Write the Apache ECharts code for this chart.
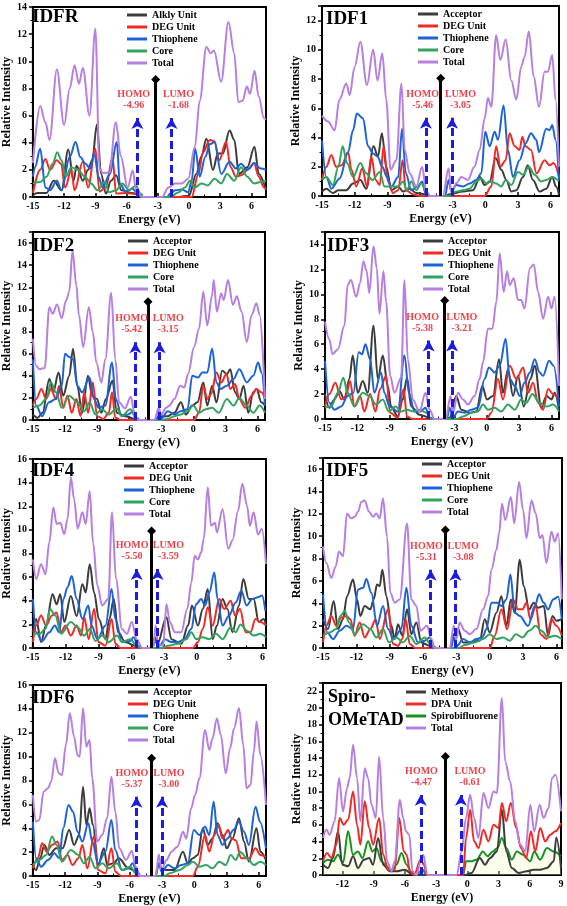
<!DOCTYPE html>
<html><head><meta charset="utf-8">
<script src="https://cdn.jsdelivr.net/npm/echarts@6/dist/echarts.min.js"></script>
<style>html,body{margin:0;padding:0;background:#fff}#c{width:567px;height:906px}</style>
</head><body><div id="c"></div><script>
// ---------------- DATA ([energy eV, intensity]) ----------------
const idfr_alkly=[[-15,0.1],[-14.6,0.3],[-13.7,0.3],[-13.0,1.2],[-12.25,0.5],[-11.6,3.5],[-11.1,1.2],[-10.8,2.3],[-10.2,1.2],[-9.7,2.0],[-9.3,2.7],[-8.85,5.35],[-8.45,1.7],[-7.98,0.25],[-7.5,1.2],[-7.0,1.6],[-6.5,0.5],[-5.5,0.3],[-4.6,0.1],[-4.4,0],[-1,0],[0,0.1],[0.7,1.7],[1.2,3.0],[1.67,4.3],[2.3,2.0],[2.77,3.2],[3.25,3.2],[3.9,4.9],[4.35,4.2],[4.8,1.7],[5.6,2.2],[6.3,3.7],[6.7,1.7],[7.4,0.5]];
const idfr_deg=[[-15,0.3],[-14.3,2.0],[-13.8,2.8],[-13.35,2.0],[-12.7,2.7],[-12.3,2.45],[-11.9,0.7],[-11.3,2.0],[-11.0,0.5],[-10.2,2.6],[-9.7,0.7],[-9.0,3.55],[-8.6,0.4],[-8.0,0.7],[-7.35,2.9],[-7.0,0.25],[-6,0.3],[-5,0.2],[-4.5,0],[0.25,0],[0.9,1.7],[1.35,3.3],[2.0,4.2],[2.45,4.1],[2.9,2.7],[3.56,4.05],[4.0,2.2],[4.5,1.5],[5.0,1.6],[5.8,2.1],[6.25,2.5],[6.7,1.5],[7.2,0.7],[7.4,0.6]];
const idfr_thio=[[-15,1.5],[-14.8,2.2],[-14.3,3.55],[-13.8,0.7],[-13.35,0.5],[-12.7,1.2],[-12.25,0.5],[-11.46,2.95],[-10.9,4.05],[-10.45,2.95],[-9.94,2.45],[-9.5,2.1],[-9.1,3.2],[-8.7,1.5],[-8.3,0.7],[-7.6,1.7],[-6.94,4.05],[-6.65,1.0],[-6.1,0.4],[-5.45,0.6],[-5.0,0.35],[-4.6,0],[-2.1,0],[-1.8,0.25],[-1.3,0.5],[-0.7,0.55],[-0.07,0.35],[0.25,1.2],[0.6,3.55],[1.03,1.5],[1.57,2.95],[2.0,3.9],[2.45,4.05],[3.1,1.7],[3.9,2.6],[4.5,2.1],[5.0,2.45],[5.6,2.0],[6.25,2.5],[6.9,2.1],[7.4,2.0]];
const idfr_core=[[-15,1.0],[-14.3,1.1],[-13.7,1.5],[-13.1,2.45],[-12.66,3.3],[-12.25,2.7],[-11.84,1.5],[-11.3,2.2],[-10.67,2.0],[-10.0,1.5],[-9.4,1.0],[-8.8,0.5],[-8.1,1.1],[-7.66,0.35],[-7.0,0.5],[-6.4,1.0],[-5.77,0.5],[-5.1,0.85],[-4.66,0.25],[-4.4,0],[-1.8,0],[-1.0,0.35],[-0.4,0.7],[0.1,1.2],[0.56,0.7],[1.2,1.0],[1.8,0.85],[2.45,1.35],[3.1,1.0],[3.66,1.7],[4.35,1.2],[5.0,2.2],[5.6,1.5],[6.25,1.0],[6.9,1.1],[7.4,1.2]];
const idfr_total=[[-15,2.5],[-14.3,6.7],[-13.8,5.5],[-13.4,4.2],[-12.7,9.4],[-12.0,5.3],[-11.46,8.0],[-11.0,9.7],[-10.57,8.35],[-10.2,9.5],[-9.56,6.0],[-9.0,12.4],[-8.6,2.2],[-8.3,1.77],[-7.66,1.8],[-7.03,5.5],[-6.55,3.0],[-5.9,0.7],[-5.4,1.95],[-5.1,0.5],[-4.5,0],[-2.6,0],[-1.97,0.7],[-1.34,1.0],[-0.7,1.0],[-0.07,1.35],[0.56,3.7],[1.03,7.1],[1.67,11.05],[2.08,10.6],[2.4,10.8],[3.09,8.5],[3.79,12.9],[4.35,10.6],[4.73,7.0],[5.15,7.1],[5.56,8.15],[5.87,7.6],[6.3,9.3],[6.7,7.4],[7.2,5.8],[7.4,5.7]];

const idf1_acc=[[-15,0.3],[-14.6,0.5],[-14.0,0.2],[-13.5,0.4],[-12.77,0.4],[-12.15,0.85],[-11.48,1.1],[-10.93,0.5],[-10.26,3.4],[-9.86,2.7],[-9.5,4.3],[-9.1,2.0],[-8.63,0.4],[-8.0,0.65],[-7.56,0.3],[-6.95,0.5],[-6.34,0.2],[-5.4,0.1],[-5.0,0],[-3.6,0],[-3.37,0.1],[-2.05,0.3],[-1.13,0.4],[-0.5,1.3],[-0.06,0.75],[0.4,1.0],[0.95,2.6],[1.47,1.8],[1.93,1.1],[2.39,0.3],[2.85,0.4],[3.46,1.3],[3.9,2.1],[4.37,1.1],[5.0,0.3],[5.6,0.5],[6.15,1.3],[6.5,0.65],[6.77,0.1]];
const idf1_deg=[[-15,1.1],[-14.6,2.0],[-14.14,2.8],[-13.7,2.0],[-13.2,2.1],[-12.6,3.0],[-12.3,1.8],[-11.85,0.65],[-11.3,1.9],[-10.87,0.65],[-10.47,2.7],[-10.07,1.1],[-9.7,0.75],[-9.34,3.4],[-8.94,1.0],[-8.48,0.2],[-8.0,0.4],[-7.6,2.45],[-7.3,0.4],[-6.6,0.1],[-6.0,0],[-0.06,0],[0.55,0.65],[1.0,3.4],[1.38,2.0],[1.87,2.45],[2.23,4.3],[2.7,3.4],[3.15,3.15],[3.4,4.05],[3.7,3.4],[4.2,3.15],[4.7,1.55],[5.45,2.45],[5.9,2.1],[6.27,2.25],[6.77,1.3]];
const idf1_thio=[[-15,3.8],[-14.6,1.3],[-14.14,0.5],[-13.38,1.2],[-12.6,3.0],[-12.15,4.5],[-11.8,5.65],[-11.23,5.3],[-10.77,3.4],[-10.3,2.9],[-9.9,2.7],[-9.46,2.0],[-9.03,1.3],[-8.63,0.65],[-8.0,1.3],[-7.65,4.6],[-7.3,1.55],[-6.8,0.4],[-6.2,0.65],[-5.8,1.0],[-5.5,0.2],[-5.2,0],[-3.7,0],[-3.37,1.1],[-3.12,0.3],[-2.66,0.75],[-2.05,0.65],[-1.44,0.85],[-0.83,1.1],[-0.37,1.55],[0.0,4.4],[0.4,3.4],[0.86,4.4],[1.16,3.85],[1.68,6.2],[2.08,3.15],[2.54,1.3],[3.15,2.45],[3.7,3.6],[4.2,4.3],[4.68,3.85],[4.93,3.0],[5.6,4.6],[5.9,4.5],[6.15,4.85],[6.45,3.85],[6.77,1.1]];
const idf1_core=[[-15,1.1],[-14.6,1.3],[-14.0,0.75],[-13.5,2.0],[-13.1,3.4],[-12.7,2.25],[-12.15,1.3],[-11.48,2.25],[-10.93,1.55],[-10.38,1.1],[-9.7,1.65],[-9.25,0.65],[-8.63,0.65],[-8.0,0.65],[-7.56,1.0],[-7.2,0.4],[-6.8,1.0],[-6.34,0.4],[-5.88,0.85],[-5.4,0.3],[-5.1,0],[-3.3,0],[-2.66,0.3],[-2.05,0.4],[-1.44,0.5],[-0.83,1.0],[-0.37,1.2],[0.1,0.85],[0.55,1.0],[1.0,0.85],[1.47,0.65],[1.87,1.1],[2.39,0.75],[3.0,1.65],[3.46,1.45],[4.0,2.0],[4.53,1.45],[5.14,1.0],[5.6,1.1],[6.15,1.3],[6.77,1.0]];
const idf1_total=[[-15,5.5],[-14.45,5.1],[-13.84,4.5],[-13.4,6.6],[-12.77,7.7],[-12.46,6.9],[-12.0,8.85],[-11.48,10.56],[-10.87,7.6],[-10.3,10.0],[-9.9,7.9],[-9.46,9.76],[-9.1,6.6],[-8.7,1.8],[-8.17,2.45],[-7.7,7.7],[-7.4,3.15],[-6.95,1.55],[-6.34,0.65],[-5.8,2.0],[-5.4,0.2],[-5.1,0],[-3.9,0],[-3.37,1.9],[-3.12,0.2],[-2.66,0.87],[-2.2,1.3],[-1.6,1.1],[-1.0,2.0],[-0.52,3.15],[-0.06,5.3],[0.24,6.7],[0.55,6.1],[1.0,11.0],[1.38,9.3],[1.87,10.7],[2.39,7.9],[2.85,6.6],[3.3,8.85],[3.6,9.5],[4.0,11.25],[4.44,8.2],[4.93,6.1],[5.45,8.5],[5.75,8.5],[6.15,9.65],[6.45,6.6],[6.77,2.0]];

const idf2_acc=[[-15,0.5],[-14.55,0.2],[-14.1,0.65],[-13.46,3.7],[-13.1,2.5],[-12.6,4.3],[-12.17,2.2],[-11.6,4.0],[-11.25,6.45],[-10.85,3.1],[-10.4,0.65],[-9.85,4.0],[-9.46,2.2],[-9.0,1.9],[-8.6,0.65],[-8.17,1.9],[-7.56,3.55],[-7.16,0.65],[-6.4,0.35],[-5.47,0.1],[-5.1,0],[-3.5,0],[-3.25,0.35],[-2.4,0.35],[-1.78,0.65],[-1.16,1.6],[-0.7,0.5],[-0.1,1.3],[0.38,1.6],[0.93,3.4],[1.3,1.3],[1.76,3.1],[2.16,1.6],[2.7,4.45],[3.14,4.15],[3.45,4.6],[3.9,2.5],[4.3,1.9],[4.7,3.1],[5.14,0.65],[5.6,2.5],[5.9,2.8],[6.37,1.6],[6.7,1.3]];
const idf2_deg=[[-15,1.3],[-14.7,1.9],[-14.2,2.8],[-13.77,1.9],[-13.3,2.8],[-12.85,1.9],[-12.54,3.1],[-12.17,1.1],[-11.77,2.2],[-11.37,0.65],[-10.94,1.9],[-10.54,0.35],[-10.2,2.5],[-9.84,0.65],[-9.4,3.4],[-9.0,0.35],[-8.4,0.1],[-7.9,0.65],[-7.6,2.5],[-7.3,0.2],[-6.8,0],[0.07,0],[0.53,0.65],[0.93,3.1],[1.3,1.9],[1.67,2.35],[2.16,4.3],[2.6,3.4],[3.1,4.15],[3.45,2.8],[3.9,3.25],[4.3,1.9],[4.85,1.1],[5.45,2.2],[5.9,2.8],[6.37,2.5],[6.7,1.9]];
const idf2_thio=[[-15,5.5],[-14.7,1.3],[-14.14,0.35],[-13.5,1.6],[-12.85,1.9],[-12.3,3.1],[-12.0,6.0],[-11.6,5.7],[-11.25,5.5],[-10.85,3.1],[-10.4,2.5],[-9.7,3.85],[-9.3,1.9],[-8.85,1.1],[-8.23,1.3],[-7.6,5.2],[-7.25,1.9],[-6.7,0.35],[-6.1,0.5],[-5.6,0.8],[-5.3,0.2],[-5.0,0],[-3.6,0],[-3.3,0.8],[-3.0,0.1],[-2.4,0.8],[-1.78,0.5],[-1.16,0.8],[-0.55,0.97],[-0.1,4.0],[0.44,3.85],[0.84,4.3],[1.3,4.3],[1.76,6.45],[2.16,3.4],[2.53,2.8],[3.14,3.1],[3.75,3.7],[4.3,4.6],[5.0,3.4],[5.6,4.0],[6.06,5.2],[6.37,4.3],[6.7,1.3]];
const idf2_core=[[-15,1.1],[-14.4,1.3],[-13.77,1.9],[-13.3,3.4],[-12.85,2.5],[-12.3,1.1],[-11.6,2.2],[-10.85,1.6],[-10.2,0.8],[-9.7,1.6],[-9.15,0.5],[-8.54,0.97],[-7.9,0.5],[-7.16,1.05],[-6.7,0.35],[-5.9,0.97],[-5.3,0.05],[-5.0,0],[-3.0,0],[-2.4,0.1],[-1.78,0.35],[-1.16,0.5],[-0.55,0.8],[0.0,1.3],[0.53,0.65],[1.15,0.97],[1.76,1.1],[2.37,0.65],[3.14,1.9],[3.75,1.3],[4.3,2.0],[5.0,1.3],[5.6,0.65],[6.2,1.3],[6.7,0.65]];
const idf2_total=[[-15,7.35],[-14.7,4.9],[-14.4,4.6],[-13.9,4.7],[-13.46,10.2],[-13.15,9.6],[-12.75,10.45],[-12.3,9.2],[-11.9,10.8],[-11.6,11.6],[-11.3,15.3],[-10.94,12.2],[-10.7,9.5],[-10.3,6.6],[-9.77,10.2],[-9.4,7.95],[-9.07,5.2],[-8.6,3.4],[-8.23,5.5],[-7.68,11.5],[-7.3,5.5],[-6.94,1.6],[-6.4,1.05],[-5.84,2.1],[-5.47,0.4],[-5.15,0],[-3.6,0],[-3.25,1.1],[-3.0,0.5],[-2.55,1.1],[-2.24,1.3],[-1.78,1.9],[-1.22,3.1],[-0.85,2.95],[-0.49,4.15],[0.07,6.6],[0.53,8.25],[0.93,11.6],[1.3,8.55],[1.76,11.3],[1.9,12.66],[2.2,9.8],[2.6,11.45],[2.84,10.85],[3.24,12.66],[3.7,10.4],[4.07,11.2],[4.5,9.8],[5.0,7.05],[5.45,9.5],[5.9,10.55],[6.2,9.5],[6.7,1.9]];

const idf3_acc=[[-15,2.0],[-14.6,0.9],[-14.13,1.57],[-13.67,2.24],[-13.2,1.57],[-12.74,3.2],[-12.43,5.1],[-11.96,2.1],[-11.5,3.05],[-11.04,2.1],[-10.5,7.5],[-10.1,3.2],[-9.64,5.1],[-9.18,2.65],[-8.87,1.0],[-8.25,0.2],[-7.78,1.57],[-7.4,3.3],[-7.0,1.0],[-6.24,0.35],[-5.3,0.1],[-4.9,0],[-3.7,0],[-3.45,0.1],[-2.83,1.85],[-2.36,0.75],[-1.6,0.5],[-0.97,0.6],[-0.41,2.65],[0.02,1.57],[0.58,1.85],[1.14,4.8],[1.5,2.1],[1.97,4.0],[2.44,1.85],[2.9,3.46],[3.43,1.0],[4.05,3.2],[4.45,4.27],[5.07,0.9],[5.53,1.85],[6.0,1.57],[6.3,2.1],[6.7,0.75]];
const idf3_deg=[[-15,1.0],[-14.6,2.0],[-14.04,2.9],[-13.5,1.57],[-13.05,1.85],[-12.68,3.05],[-12.27,1.0],[-11.75,1.85],[-11.35,0.6],[-10.82,2.0],[-10.32,0.6],[-9.9,2.4],[-9.33,3.46],[-8.96,0.5],[-8.25,0.1],[-7.72,2.4],[-7.4,0.2],[-6.9,0],[0.0,0],[0.42,0.5],[1.04,3.2],[1.5,1.57],[2.13,4.27],[2.75,3.2],[3.37,4.14],[3.83,2.1],[4.3,2.9],[4.76,1.3],[5.22,0.75],[5.69,2.4],[6.15,2.0],[6.7,1.57]];
const idf3_thio=[[-15,4.67],[-14.6,1.3],[-14.13,0.75],[-13.5,1.0],[-12.9,1.85],[-12.37,2.1],[-11.87,5.35],[-11.56,5.2],[-11.25,6.0],[-10.82,4.8],[-10.42,2.1],[-9.8,3.73],[-9.5,2.1],[-9.0,1.0],[-8.25,0.6],[-7.63,5.1],[-7.22,2.1],[-6.7,0.6],[-6.17,0.6],[-5.68,0.9],[-5.3,0.1],[-5.0,0],[-3.7,0],[-3.45,0.9],[-3.14,0.1],[-2.67,0.6],[-2.05,0.5],[-1.43,0.75],[-0.82,0.9],[-0.2,3.2],[0.2,4.14],[0.73,3.73],[1.2,4.27],[1.75,6.43],[2.13,3.2],[2.6,2.65],[3.05,1.85],[3.5,2.9],[4.0,3.73],[4.45,4.8],[4.9,3.73],[5.22,3.46],[5.78,4.67],[6.2,4.27],[6.7,1.0]];
const idf3_core=[[-15,0.9],[-14.44,1.0],[-13.8,2.1],[-13.3,3.3],[-12.9,2.1],[-12.27,1.0],[-11.5,2.1],[-10.88,1.85],[-10.26,1.16],[-9.64,1.57],[-9.08,0.6],[-8.47,1.0],[-7.94,0.6],[-7.4,0.75],[-6.8,0.6],[-6.24,0.75],[-5.6,0.5],[-5.15,0],[-2.8,0],[-2.2,0.2],[-1.43,0.5],[-0.82,0.6],[-0.35,1.16],[0.11,0.75],[0.73,0.9],[1.35,0.6],[1.97,1.16],[2.6,0.75],[3.2,1.57],[3.67,1.3],[4.23,2.0],[4.9,1.3],[5.53,1.0],[6.15,1.16],[6.7,0.6]];
const idf3_total=[[-15,7.8],[-14.6,6.4],[-14.3,5.2],[-13.8,5.6],[-13.2,7.5],[-12.9,10.75],[-12.6,11.15],[-12.1,9.8],[-11.75,10.9],[-11.44,12.65],[-11.13,11.85],[-10.9,10.1],[-10.5,13.86],[-10.2,12.1],[-9.95,8.45],[-9.58,11.85],[-9.33,9.4],[-8.96,3.46],[-8.56,2.1],[-7.94,3.3],[-7.63,11.15],[-7.32,4.8],[-6.85,1.55],[-6.24,0.6],[-5.68,2.1],[-5.3,0.75],[-4.84,0],[-3.8,0],[-3.36,1.85],[-3.14,0.5],[-2.67,2.1],[-2.2,1.57],[-1.75,1.16],[-1.13,1.85],[-0.66,3.2],[-0.35,4.54],[0.11,7.24],[0.52,7.24],[0.89,9.4],[1.2,13.3],[1.57,10.2],[1.88,11.85],[2.13,10.75],[2.5,11.3],[2.9,9.54],[3.2,9.54],[3.5,8.86],[4.0,12.1],[4.36,12.4],[4.76,10.2],[5.22,8.05],[5.69,9.8],[6.0,8.86],[6.3,9.8],[6.7,2.65]];

const idf4_acc=[[-15,1.33],[-14.7,2.45],[-14.25,0.5],[-13.8,1.9],[-13.2,4.55],[-12.83,3.7],[-12.5,4.55],[-12.13,2.2],[-11.53,4.4],[-11.0,2.7],[-10.47,5.4],[-10.17,4.7],[-9.8,7.1],[-9.4,4.7],[-8.96,2.45],[-8.36,0.75],[-8.0,2.45],[-7.6,4.15],[-7.2,1.33],[-6.55,0.5],[-5.65,0.2],[-5.2,0],[-4.1,0],[-3.83,0.9],[-3.6,0.35],[-2.78,2.6],[-2.33,0.75],[-1.42,0.35],[-0.8,1.9],[-0.45,3.6],[0.1,1.9],[0.55,3.3],[1.0,5.0],[1.45,0.75],[1.84,1.9],[2.35,4.15],[2.8,3.3],[3.26,1.33],[3.86,3.6],[4.25,5.85],[4.76,4.15],[5.2,4.15],[5.67,2.2],[6.12,2.45],[6.33,1.9]];
const idf4_deg=[[-15,0.5],[-14.7,1.9],[-14.25,2.75],[-13.8,1.9],[-13.25,2.75],[-12.83,3.0],[-12.43,1.33],[-12.0,1.9],[-11.53,1.05],[-11.0,1.9],[-10.6,1.05],[-10.3,2.6],[-9.9,0.75],[-9.4,3.3],[-9.0,0.5],[-8.36,0.2],[-7.8,2.45],[-7.45,0.35],[-7.0,0],[-0.35,0],[0.1,0.5],[0.55,1.6],[1.0,3.45],[1.45,1.9],[2.05,4.15],[2.5,3.3],[3.1,4.0],[3.5,2.75],[3.95,3.3],[4.46,1.33],[4.9,1.33],[5.37,2.45],[5.8,2.2],[6.33,1.9]];
const idf4_thio=[[-15,4.15],[-14.7,1.33],[-14.15,0.6],[-13.5,1.33],[-13.0,1.9],[-12.6,1.33],[-12.2,4.15],[-11.83,5.15],[-11.44,6.1],[-11.0,4.15],[-10.47,2.45],[-9.93,3.6],[-9.63,1.9],[-9.1,0.75],[-8.36,1.9],[-7.8,5.0],[-7.45,2.45],[-6.85,0.5],[-6.1,0.6],[-5.8,0.9],[-5.35,0.2],[-5.0,0],[-4.1,0],[-3.83,0.5],[-3.4,0.2],[-2.93,0.75],[-2.33,0.5],[-1.72,0.5],[-1.12,0.75],[-0.5,1.6],[-0.07,3.7],[0.4,4.15],[0.75,3.6],[1.15,4.7],[1.6,6.4],[1.9,4.15],[2.35,1.9],[2.95,2.75],[3.55,3.85],[4.07,4.85],[4.55,3.6],[5.07,4.15],[5.58,4.3],[5.97,4.45],[6.27,3.15]];
const idf4_core=[[-15,1.2],[-14.4,1.2],[-13.85,1.6],[-13.43,3.3],[-12.95,2.75],[-12.43,1.2],[-11.53,2.2],[-10.9,1.75],[-10.3,1.05],[-9.8,1.6],[-9.27,0.6],[-8.66,1.05],[-8.06,0.5],[-7.3,1.05],[-6.85,0.5],[-6.1,0.75],[-5.5,0.2],[-5.1,0],[-3.2,0],[-2.63,0.2],[-1.72,0.35],[-0.97,0.75],[-0.5,1.33],[-0.07,0.75],[0.55,0.9],[1.15,0.75],[1.75,1.2],[2.35,0.75],[3.1,1.75],[3.55,1.33],[4.0,2.0],[4.6,1.45],[5.2,1.05],[5.8,1.2],[6.33,0.9]];
const idf4_total=[[-15,7.5],[-14.7,5.85],[-14.25,7.1],[-13.85,6.25],[-13.5,8.95],[-13.13,11.9],[-12.83,10.5],[-12.5,10.6],[-12.13,9.65],[-11.83,10.9],[-11.53,14.45],[-11.23,12.6],[-10.9,10.1],[-10.47,11.5],[-10.17,10.5],[-9.8,13.3],[-9.5,8.95],[-9.1,5.3],[-8.66,3.6],[-8.1,4.15],[-7.76,11.5],[-7.4,5.85],[-6.85,1.6],[-6.4,1.2],[-5.95,2.2],[-5.5,0.75],[-5.0,0],[-4.0,0],[-3.77,1.9],[-3.53,0.35],[-3.08,0.2],[-2.78,3.7],[-2.47,2.2],[-2.0,1.33],[-1.42,1.33],[-0.88,3.3],[-0.5,5.55],[-0.2,7.8],[0.1,7.5],[0.4,8.1],[0.63,9.2],[1.0,13.6],[1.3,10.35],[1.66,10.6],[1.84,9.8],[2.35,11.75],[2.88,8.4],[3.26,9.1],[3.77,11.6],[4.16,13.9],[4.6,12.05],[4.85,10.35],[5.2,11.5],[5.6,9.6],[5.95,10.1],[6.33,7.1]];

const idf5_acc=[[-15,2.57],[-14.55,1.69],[-14.04,4.2],[-13.65,1.69],[-13.2,2.57],[-12.84,4.64],[-12.3,6.12],[-11.94,4.35],[-11.64,2.87],[-11.25,3.76],[-10.74,3.46],[-10.44,4.35],[-10.14,5.68],[-9.9,5.53],[-9.66,7.0],[-9.3,4.64],[-8.85,1.98],[-8.55,0.8],[-8.25,2.13],[-7.86,1.1],[-7.44,3.46],[-7.05,1.24],[-6.6,2.28],[-6.15,0.5],[-5.4,0.2],[-5.0,0],[-3.5,0],[-3.24,1.24],[-2.85,1.69],[-2.4,0.5],[-1.8,0.5],[-0.9,0.65],[-0.45,2.57],[0.0,1.39],[0.6,3.16],[1.05,4.64],[1.5,1.98],[1.9,4.35],[2.25,3.16],[2.7,7.9],[3.06,5.53],[3.54,3.46],[3.96,4.05],[4.35,3.6],[4.86,3.76],[5.25,1.1],[5.64,2.87],[6.0,2.43],[6.48,2.57]];
const idf5_deg=[[-15,0.5],[-14.7,1.98],[-14.25,2.87],[-13.8,1.98],[-13.35,2.72],[-12.9,2.87],[-12.54,2.57],[-12.15,1.1],[-11.7,2.28],[-11.25,0.95],[-10.74,1.69],[-10.26,2.57],[-9.9,0.8],[-9.15,3.46],[-8.7,0.35],[-8.25,0.2],[-7.86,0.8],[-7.56,2.57],[-7.2,0.35],[-6.7,0],[0.0,0],[0.45,1.1],[1.05,3.46],[1.56,1.69],[2.1,4.35],[2.55,3.46],[2.94,3.46],[3.3,4.05],[3.66,2.57],[4.14,3.76],[4.56,1.24],[5.1,0.8],[5.55,2.57],[6.0,1.98],[6.48,1.1]];
const idf5_thio=[[-15,4.8],[-14.6,1.39],[-14.1,0.8],[-13.5,1.54],[-12.9,1.98],[-12.3,1.69],[-11.85,5.24],[-11.4,5.38],[-11.1,6.18],[-10.65,4.94],[-10.14,1.98],[-9.6,3.76],[-9.15,1.69],[-8.64,0.8],[-7.95,1.69],[-7.5,5.38],[-7.05,1.98],[-6.45,0.5],[-5.85,0.65],[-5.4,0.95],[-5.1,0.2],[-4.8,0],[-3.5,0],[-3.24,0.95],[-2.94,0.2],[-2.4,0.8],[-1.8,0.5],[-1.2,0.8],[-0.66,0.95],[-0.3,1.69],[0.15,4.05],[0.66,4.05],[1.05,3.76],[1.5,4.35],[1.86,6.57],[2.25,3.16],[2.7,2.87],[3.45,1.98],[4.05,3.76],[4.44,4.8],[4.86,4.05],[5.25,3.46],[5.7,4.35],[6.15,4.58],[6.48,2.57]];
const idf5_core=[[-15,1.1],[-14.4,1.39],[-13.8,1.69],[-13.44,2.87],[-13.05,3.3],[-12.66,2.28],[-12.15,1.24],[-11.4,2.13],[-10.74,1.69],[-10.2,0.95],[-9.6,1.69],[-9.06,0.5],[-8.4,0.95],[-7.8,0.5],[-7.2,1.1],[-6.6,0.35],[-5.85,0.95],[-5.25,0.2],[-4.9,0],[-2.8,0],[-2.25,0.27],[-1.35,0.5],[-0.6,0.8],[0.0,1.24],[0.6,0.8],[1.2,0.95],[1.8,0.65],[2.34,1.24],[2.94,0.95],[3.54,1.54],[4.14,1.98],[4.65,1.54],[5.25,0.95],[5.85,1.1],[6.48,0.8]];
const idf5_total=[[-15,9.1],[-14.7,7.6],[-14.25,6.27],[-13.86,7.3],[-13.56,8.64],[-13.2,8.2],[-12.84,12.04],[-12.45,11.6],[-12.15,11.74],[-11.85,12.19],[-11.55,13.07],[-11.25,13.2],[-10.86,12.19],[-10.5,11.74],[-10.2,12.04],[-9.9,11.6],[-9.6,13.37],[-9.24,9.97],[-8.94,4.94],[-8.55,4.05],[-8.1,4.35],[-7.44,11.15],[-7.05,4.35],[-6.6,3.76],[-6.24,1.54],[-5.64,1.98],[-5.25,0.8],[-4.95,0],[-3.6,0],[-3.24,1.98],[-3.0,0.8],[-2.7,2.28],[-2.25,1.54],[-1.8,1.24],[-1.2,1.69],[-0.6,3.46],[-0.15,4.64],[0.15,7.0],[0.6,8.78],[0.84,10.26],[1.1,12.9],[1.4,11.45],[1.9,13.5],[2.2,11.15],[2.64,14.85],[3.0,12.33],[3.3,9.82],[3.75,13.2],[4.14,12.04],[4.5,9.82],[4.74,10.1],[5.1,7.6],[5.55,10.4],[5.85,9.52],[6.15,10.26],[6.48,4.35]];

const idf6_acc=[[-15,0.92],[-14.7,0.5],[-14.33,1.48],[-13.93,2.6],[-13.47,1.76],[-12.85,2.32],[-12.24,2.32],[-11.63,3.85],[-11.17,2.6],[-10.7,3.43],[-10.34,7.48],[-10.03,4.27],[-9.73,5.67],[-9.42,4.27],[-8.93,0.92],[-8.4,2.32],[-8.1,0.92],[-7.5,1.06],[-7.03,1.48],[-6.1,0.64],[-5.34,0.36],[-5.0,0],[-3.6,0],[-3.35,0.92],[-2.74,0.5],[-1.82,0.5],[-1.05,2.04],[-0.6,1.06],[-0.13,1.48],[0.33,1.76],[0.79,4.0],[1.25,2.6],[1.7,3.15],[2.17,4.41],[2.63,3.43],[3.02,2.32],[3.55,3.15],[4.16,4.83],[4.62,2.88],[5.08,1.2],[5.79,4.0],[6.15,2.04],[6.67,1.34]];
const idf6_deg=[[-15,0.64],[-14.54,1.48],[-14.14,2.74],[-13.71,2.04],[-13.22,2.6],[-12.7,2.88],[-12.3,1.34],[-11.78,1.76],[-11.32,0.92],[-10.77,1.48],[-10.4,2.6],[-9.94,0.64],[-9.33,3.3],[-8.93,0.5],[-8.26,0.22],[-7.7,2.32],[-7.34,0.36],[-6.8,0],[-0.13,0],[0.33,0.78],[1.0,3.43],[1.4,2.04],[1.86,3.43],[2.23,4.27],[2.63,3.15],[3.15,3.85],[3.46,3.15],[3.85,3.0],[4.37,1.48],[5.08,1.48],[5.7,2.32],[6.15,1.76],[6.67,1.62]];
const idf6_thio=[[-15,4.55],[-14.7,1.48],[-14.23,0.78],[-13.6,1.34],[-13.0,1.9],[-12.55,1.48],[-12.18,4.0],[-11.69,5.95],[-11.26,5.39],[-10.86,3.71],[-10.4,2.88],[-9.85,4.41],[-9.48,2.88],[-8.93,1.06],[-8.26,2.04],[-7.7,4.69],[-7.34,2.18],[-6.72,0.5],[-6.1,0.64],[-5.74,1.06],[-5.34,0.36],[-5.0,0],[-3.6,0],[-3.29,1.06],[-3.04,0.36],[-2.43,0.92],[-1.82,0.64],[-1.2,0.92],[-0.6,1.06],[-0.04,3.85],[0.48,3.43],[1.0,4.13],[1.4,3.43],[1.8,6.23],[2.17,3.43],[2.63,2.6],[3.09,3.15],[3.64,3.85],[4.16,4.55],[4.62,3.71],[5.08,2.6],[5.7,5.81],[6.1,4.55],[6.67,2.32]];
const idf6_core=[[-15,0.92],[-14.4,1.34],[-13.77,1.76],[-13.22,3.3],[-12.8,2.6],[-12.3,1.2],[-11.47,2.18],[-10.77,1.76],[-10.25,1.06],[-9.73,1.62],[-9.18,0.64],[-8.56,1.06],[-7.95,0.64],[-7.18,1.06],[-6.72,0.5],[-5.96,0.78],[-5.34,0.14],[-5.0,0],[-2.8,0],[-2.28,0.22],[-1.36,0.5],[-0.6,0.92],[-0.13,1.2],[0.48,0.78],[1.1,0.92],[1.7,0.64],[2.32,1.2],[2.93,0.92],[3.39,1.76],[3.85,1.34],[4.25,2.04],[4.93,1.48],[5.54,0.92],[6.15,1.2],[6.67,0.92]];
const idf6_total=[[-15,6.8],[-14.7,4.55],[-14.4,4.7],[-14.0,7.07],[-13.6,7.35],[-13.3,7.9],[-12.95,9.86],[-12.6,8.6],[-12.3,8.46],[-11.93,10.97],[-11.57,13.63],[-11.17,11.67],[-10.86,10.14],[-10.65,10.0],[-10.34,14.05],[-10.03,10.83],[-9.73,11.4],[-9.48,8.18],[-9.02,2.88],[-8.56,3.43],[-8.1,4.83],[-7.7,8.32],[-7.34,5.39],[-6.97,2.32],[-6.35,1.34],[-5.8,2.1],[-5.44,0.78],[-5.04,0],[-3.6,0],[-3.29,1.8],[-3.04,0.5],[-2.58,1.34],[-2.12,2.04],[-1.57,2.46],[-1.05,3.7],[-0.74,3.15],[-0.29,5.67],[0.08,6.8],[0.48,8.18],[1.0,12.23],[1.4,10.56],[1.7,11.53],[2.1,13.2],[2.47,11.81],[2.93,8.6],[3.33,10.7],[3.7,12.37],[4.16,14.05],[4.56,10.97],[4.86,7.34],[5.23,7.62],[5.54,10.42],[5.79,12.93],[6.15,10.14],[6.67,5.95]];

const spiro_methoxy=[[-13.86,1.24],[-13.38,0.84],[-12.9,2.04],[-12.42,5.23],[-12.0,1.24],[-11.45,1.04],[-10.97,2.24],[-10.5,0.84],[-9.94,1.84],[-9.43,2.04],[-9.05,1.24],[-8.56,4.43],[-8.08,1.24],[-7.44,0.44],[-6.8,0.44],[-6.0,0.64],[-5.35,0.12],[-5.0,0],[-0.2,0],[0.4,0.24],[1.2,2.04],[1.7,1.24],[2.2,2.04],[2.84,2.83],[3.32,7.82],[3.74,2.83],[4.28,0.84],[4.92,0.24],[5.72,0.44],[6.37,0.64],[7.0,0.64],[7.65,0.84],[8.3,1.64],[8.55,4.5],[9.0,0.84]];
const spiro_dpa=[[-13.86,1.64],[-13.48,2.63],[-13.06,2.04],[-12.58,3.63],[-12.26,6.83],[-11.87,6.03],[-11.45,6.63],[-10.97,10.0],[-10.59,6.03],[-10.27,3.63],[-9.85,8.82],[-9.43,5.63],[-9.05,3.63],[-8.47,6.83],[-8.08,2.43],[-7.6,0.64],[-6.96,0.64],[-6.54,6.83],[-6.1,2.83],[-5.83,2.43],[-5.5,0.44],[-5.1,0],[-4.49,1.84],[-4.16,1.24],[-3.9,0],[-0.4,0],[-0.12,4.43],[0.27,7.82],[0.65,4.03],[1.07,3.23],[1.55,5.43],[2.03,4.03],[2.52,6.03],[3.0,5.63],[3.32,8.62],[3.74,6.43],[4.18,8.62],[4.7,5.63],[5.15,3.23],[5.66,2.04],[6.11,5.23],[6.53,2.83],[7.0,5.63],[7.49,4.03],[7.97,4.83],[8.46,5.23],[9.0,6.23]];
const spiro_sbf=[[-13.86,1.44],[-13.38,1.84],[-12.9,1.64],[-12.42,2.43],[-11.94,1.44],[-11.45,5.23],[-10.97,2.43],[-10.5,2.83],[-10.07,2.04],[-9.53,4.03],[-9.11,2.83],[-8.72,3.23],[-8.24,1.64],[-7.76,1.04],[-7.28,0.44],[-6.8,1.24],[-6.32,2.63],[-5.83,1.24],[-5.35,0.24],[-4.9,0],[-4.3,0.64],[-3.9,0],[-0.4,0],[-0.12,1.64],[0.4,1.64],[0.9,1.84],[1.49,2.83],[1.94,2.24],[2.45,2.83],[2.9,3.23],[3.32,4.43],[3.74,3.23],[4.28,1.84],[4.76,2.83],[5.34,2.43],[6.05,1.64],[6.43,2.83],[7.0,1.84],[7.65,3.23],[8.3,2.83],[9.0,2.24]];
const spiro_total=[[-13.86,4.43],[-13.54,5.43],[-13.22,4.83],[-12.74,6.43],[-12.32,11.6],[-11.94,7.62],[-11.55,10.4],[-11.3,11.6],[-10.97,15.6],[-10.59,11.6],[-10.27,6.43],[-9.85,12.8],[-9.53,11.6],[-9.2,8.42],[-8.79,6.83],[-8.47,14.2],[-8.08,6.83],[-7.7,1.64],[-7.28,0.44],[-6.96,1.64],[-6.48,9.02],[-6.16,6.83],[-5.9,5.23],[-5.58,4.83],[-5.26,0.44],[-4.87,0],[-4.49,1.64],[-4.23,2.43],[-3.84,0],[-1.02,0],[-0.54,2.83],[-0.12,6.83],[0.27,9.62],[0.65,6.83],[1.07,4.43],[1.55,9.82],[2.03,8.02],[2.52,10.0],[2.84,9.82],[3.32,21.2],[3.64,13.6],[4.12,11.2],[4.6,6.43],[5.08,3.63],[5.57,2.83],[6.05,8.42],[6.43,5.23],[6.95,8.42],[7.33,6.83],[7.81,8.02],[8.13,11.6],[8.46,12.0],[9.0,7.62]];

// HOMO / LUMO annotations (eV), arrow heights and gap-marker positions
const titles=['IDFR','IDF1','IDF2','IDF3','IDF4','IDF5','IDF6','Spiro-\nOMeTAD'];
const homo=[-4.96,-5.46,-5.42,-5.38,-5.50,-5.31,-5.37,-4.47];
const lumo=[-1.68,-3.05,-3.15,-3.21,-3.59,-3.08,-3.00,-0.61];
const homoTextX=[-5.31,-5.75,-5.77,-5.94,-5.93,-5.69,-5.79,-4.4];
const lumoTextX=[-1.01,-2.28,-2.35,-2.31,-2.6,-2.39,-2.36,0.26];
const arrowTop=[5.82,5.36,7.04,6.3,6.68,7.0,6.64,9.6];
const gapX=[-3.2,-4.1,-4.24,-3.9,-4.14,-3.99,-3.96,-2.1];
const gapTop=[8.65,8.05,10.7,9.5,9.9,10.56,9.86,14.2];
const xTicks8=[-12,-9,-6,-3,0,3,6,9];

// ---------------- LAYOUT / STYLE ----------------
const FONT='"Liberation Serif","Times New Roman",serif';
const COL={gray:'#3c3c3c',red:'#f02a26',blue:'#1d63d6',green:'#31a35e',purple:'#b67fe0',dgreen:'#15921f'};
const idfNames=['Acceptor','DEG Unit','Thiophene','Core','Total'];
const panels=[
 {grid:[29,7,237,190],x:[-15,7.4],y:14,leg:[127,9],tt:[32,8],names:['Alkly Unit','DEG Unit','Thiophene','Core','Total'],data:[idfr_alkly,idfr_deg,idfr_thio,idfr_core,idfr_total]},
 {grid:[322,6,237,190],x:[-15,6.77],y:13,leg:[418,8],tt:[326,10],names:idfNames,data:[idf1_acc,idf1_deg,idf1_thio,idf1_core,idf1_total]},
 {grid:[30,232,235,188],x:[-15,6.7],y:17,leg:[128,235],tt:[32,237],names:idfNames,data:[idf2_acc,idf2_deg,idf2_thio,idf2_core,idf2_total]},
 {grid:[325,232,234,187],x:[-15,6.7],y:15,leg:[423,235],tt:[327,237],names:idfNames,data:[idf3_acc,idf3_deg,idf3_thio,idf3_core,idf3_total]},
 {grid:[30,459,236,189],x:[-15,6.33],y:16,leg:[124,460],tt:[32,462],names:idfNames,data:[idf4_acc,idf4_deg,idf4_thio,idf4_core,idf4_total]},
 {grid:[323,458,239,190],x:[-15,6.5],y:17,leg:[422,458],tt:[326,462],names:idfNames,data:[idf5_acc,idf5_deg,idf5_thio,idf5_core,idf5_total]},
 {grid:[30,685,236,191],x:[-15,6.67],y:16,leg:[128,686],tt:[32,689],names:idfNames,data:[idf6_acc,idf6_deg,idf6_thio,idf6_core,idf6_total]},
 {grid:[323,683,238,192],x:[-13.86,9],y:23,leg:[406,686],tt:[328,686],names:['Methoxy','DPA Unit','Spirobifluorene','Total'],data:[spiro_methoxy,spiro_dpa,spiro_sbf,spiro_total],spiro:true}
];
const colorsIDF=[COL.gray,COL.red,COL.blue,COL.green,COL.purple];
const colorsSpiro=[COL.gray,COL.red,COL.dgreen,COL.purple];

const grid=[],xAxis=[],yAxis=[],series=[],legend=[],title=[];
const bold={fontFamily:FONT,fontWeight:'bold',color:'#000'};
panels.forEach((p,i)=>{
  grid.push({left:p.grid[0],top:p.grid[1],width:p.grid[2],height:p.grid[3],show:true,borderColor:'#000',borderWidth:2,backgroundColor:'rgba(0,0,0,0)'});
  const xa={gridIndex:i,type:'value',min:p.x[0],max:p.x[1],
    axisLine:{show:true,onZero:false,lineStyle:{color:'#000',width:2}},
    axisTick:{show:true,inside:true,length:4,lineStyle:{color:'#000',width:1.5}},
    splitLine:{show:false},
    axisLabel:Object.assign({fontSize:10,margin:4},bold),
    name:'Energy (eV)',nameLocation:'middle',nameGap:17,nameTextStyle:Object.assign({fontSize:12},bold)};
  if(p.spiro){
    xa.axisLabel.customValues=xTicks8; xa.axisTick.customValues=xTicks8;
  } else {
    xa.interval=3; xa.axisLabel.showMaxLabel=false;
    xa.minorTick={show:true,splitNumber:2,length:2.5,lineStyle:{color:'#000',width:1}};
  }
  xAxis.push(xa);
  yAxis.push({gridIndex:i,type:'value',min:0,max:p.y,interval:2,
    axisLine:{show:true,onZero:false,lineStyle:{color:'#000',width:2}},
    axisTick:{show:true,inside:false,length:4,lineStyle:{color:'#000',width:1.5}},
    minorTick:{show:true,splitNumber:2,length:2.5,lineStyle:{color:'#000',width:1}},
    splitLine:{show:false},
    axisLabel:Object.assign({fontSize:10,margin:6,showMaxLabel:(p.y%2===0)},bold),
    name:'Relative Intensity',nameLocation:'middle',nameGap:13,nameRotate:90,nameTextStyle:Object.assign({fontSize:12},bold)});
  const cols=p.spiro?colorsSpiro:colorsIDF;
  p.data.forEach((d,k)=>{
    const s={type:'line',name:p.names[k],xAxisIndex:i,yAxisIndex:i,data:d,smooth:0.35,smoothMonotone:'x',
      showSymbol:false,symbol:'none',lineStyle:{width:2,color:cols[k]},itemStyle:{color:cols[k]},
      silent:true,animation:false,z:3};
    if(p.spiro && k===2){ s.areaStyle={color:'rgba(250,248,195,0.45)'}; s.z=2; }
    series.push(s);
  });
  // arrows
  [homo[i],lumo[i]].forEach((v,j)=>{
    series.push({type:'line',name:'_arrow'+j+'_'+i,xAxisIndex:i,yAxisIndex:i,data:[],silent:true,animation:false,
      markLine:{silent:true,animation:false,symbol:['none','arrow'],symbolSize:[9,11],
        lineStyle:{type:[8,4],width:3,color:'#1b1be2'},label:{show:false},
        data:[[{coord:[v,0]},{coord:[v,arrowTop[i]]}]]}});
  });
  // HOMO / LUMO text labels
  const tip=arrowTop[i]+5*p.y/p.grid[3];
  series.push({type:'scatter',name:'_lbl'+i,xAxisIndex:i,yAxisIndex:i,silent:true,animation:false,
    symbol:'circle',symbolSize:0,z:6,
    data:[{value:[homoTextX[i],tip],txt:'HOMO\n'+homo[i].toFixed(2)},{value:[lumoTextX[i],tip],txt:'LUMO\n'+lumo[i].toFixed(2)}],
    label:{show:true,position:'top',distance:2,formatter:(q)=>q.data.txt,align:'center',
      fontFamily:FONT,fontWeight:'bold',fontSize:10,lineHeight:11,color:'#e8101a'}});
  // gap marker
  series.push({type:'line',name:'_gap'+i,xAxisIndex:i,yAxisIndex:i,data:[],silent:true,animation:false,
    markLine:{silent:true,animation:false,symbol:['none','diamond'],symbolSize:9,
      lineStyle:{type:'solid',width:3,color:'#000'},itemStyle:{color:'#000'},label:{show:false},
      data:[[{coord:[gapX[i],0]},{coord:[gapX[i],gapTop[i]]}]]}});
  legend.push({left:p.leg[0],top:p.leg[1],orient:'vertical',padding:0,itemGap:0,itemWidth:20,itemHeight:3,icon:'rect',
    selectedMode:false,data:p.names,textStyle:Object.assign({fontSize:10,lineHeight:12},bold)});
  title.push({text:titles[i],left:p.tt[0],top:p.tt[1],padding:0,
    textStyle:Object.assign({fontSize:p.spiro?18:19,lineHeight:p.spiro?23:19},bold)});
});

const chart=echarts.init(document.getElementById('c'),null,{renderer:'canvas'});
chart.setOption({animation:false,backgroundColor:'#fff',grid,xAxis,yAxis,series,legend,title});
</script></body></html>
